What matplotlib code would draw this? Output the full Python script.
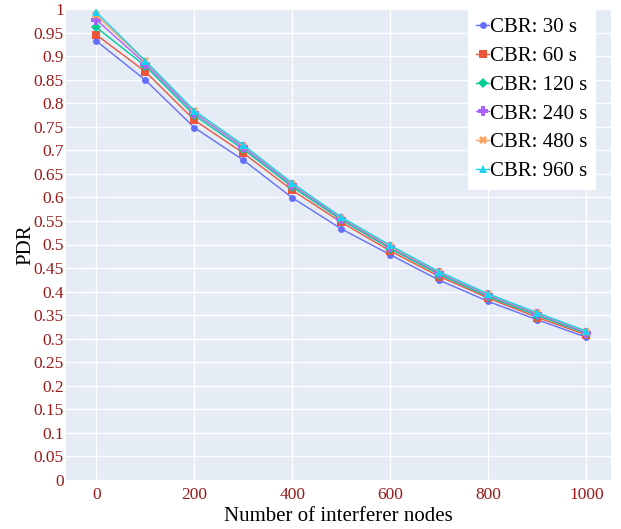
import matplotlib
matplotlib.use("Agg")
import matplotlib.pyplot as plt
import numpy as np

x_nodes = [0, 100, 200, 300, 400, 500, 600, 700, 800, 900, 1000]
series_labels = ["CBR: 30 s", "CBR: 60 s", "CBR: 120 s", "CBR: 240 s", "CBR: 480 s", "CBR: 960 s"]
pdr_30 = [0.932, 0.849, 0.748, 0.679, 0.599, 0.533, 0.478, 0.424, 0.379, 0.340, 0.303]
pdr_60 = [0.945, 0.867, 0.764, 0.694, 0.615, 0.547, 0.486, 0.432, 0.386, 0.345, 0.308]
pdr_120 = [0.961, 0.879, 0.774, 0.702, 0.622, 0.552, 0.491, 0.436, 0.389, 0.349, 0.311]
pdr_240 = [0.977, 0.884, 0.779, 0.706, 0.626, 0.555, 0.494, 0.439, 0.392, 0.352, 0.313]
pdr_480 = [0.987, 0.889, 0.783, 0.710, 0.629, 0.557, 0.496, 0.441, 0.394, 0.354, 0.315]
pdr_960 = [0.993, 0.890, 0.784, 0.711, 0.630, 0.558, 0.498, 0.442, 0.395, 0.355, 0.316]
y_ticks = [round(0.05 * i, 2) for i in range(21)]
x_ticks = [0, 200, 400, 600, 800, 1000]

series = [pdr_30, pdr_60, pdr_120, pdr_240, pdr_480, pdr_960]
colors = ["#636efa", "#EF553B", "#00cc96", "#ab63fa", "#FFA15A", "#19d3f3"]
markers = ["o", "s", "D", "P", "X", "^"]
msizes = [5, 6, 5, 7, 6, 6]

plt.rcParams['font.family'] = ['Liberation Serif', 'DejaVu Serif']

fig = plt.figure(figsize=(6.21, 5.29), dpi=100)
ax = fig.add_axes([66/621, 49/529, 545/621, 471/529])
ax.set_facecolor("#e5ecf6")

for ys, lab, c, m, ms in zip(series, series_labels, colors, markers, msizes):
    ax.plot(x_nodes, ys, color=c, marker=m, markersize=ms, linewidth=1.0,
            markeredgewidth=0, label=lab, zorder=3)

ax.set_xlim(-62, 1050)
ax.set_ylim(0, 1)
ax.set_yticks(y_ticks)
ax.set_yticklabels([("%g" % v) for v in y_ticks])
ax.set_xticks(x_ticks)
ax.grid(True, color="white", linewidth=1.0, zorder=0)
ax.set_axisbelow(True)
for s in ax.spines.values():
    s.set_visible(False)
ax.tick_params(axis='both', length=0, labelsize=12.5, colors="#9b1a1a")
ax.tick_params(axis='y', pad=1.5)
ax.tick_params(axis='x', pad=5)
ax.set_xlabel("Number of interferer nodes", fontsize=15, color="black", labelpad=3)
ax.set_ylabel("PDR", fontsize=15, color="black", labelpad=-1)

leg = ax.legend(loc="upper right", fontsize=15, frameon=True, fancybox=False,
                framealpha=1.0, edgecolor="white", facecolor="white",
                handlelength=0.6, handletextpad=0.05, borderpad=0.42,
                labelspacing=0.44, borderaxespad=0.0)
leg.set_bbox_to_anchor((596/621, 520/529), transform=fig.transFigure)
leg.get_frame().set_linewidth(0)

fig.savefig("out.png", dpi=100)
